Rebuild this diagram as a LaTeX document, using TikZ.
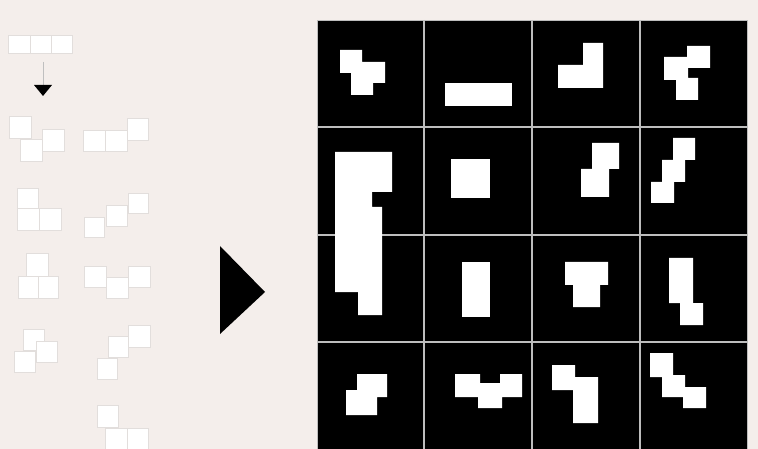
\documentclass[tikz,border=0pt]{standalone}
\usetikzlibrary{positioning}
\definecolor{bgcol}{HTML}{F4EEEB}
\definecolor{tileline}{HTML}{E2DEDC}
\definecolor{gridline}{HTML}{BDBDBD}
\tikzset{
  tile/.style={fill=white, draw=tileline, line width=0.6pt},
  blob/.style={fill=white, draw=none},
  gline/.style={draw=gridline, line width=1.8pt},
}
\begin{document}
\begin{tikzpicture}[x=1pt,y=-1pt]
\useasboundingbox (0,0) rectangle (758,449);
\fill[bgcol] (0,0) rectangle (758,449);

% ---- left: source tromino
\draw[tile] (8,35) rectangle (30,53);
\draw[tile] (30,35) rectangle (51,53);
\draw[tile] (51,35) rectangle (72,53);
\coordinate (arrtop) at (43,62);
\coordinate (arrbot) at (43,86);
\draw[gray!50, line width=0.8pt] (arrtop) -- (arrbot);
\fill[black] (34,85) -- (52,85) -- (43,96) -- cycle;

% ---- left: piece A
\draw[tile] (9,116) rectangle (31,138);
\draw[tile] (42,129) rectangle (64,151);
\draw[tile] (20,139) rectangle (42,161);
% piece B
\draw[tile] (83,130) rectangle (105,151);
\draw[tile] (105,130) rectangle (127,151);
\draw[tile] (127,118) rectangle (148,140);
% piece C
\draw[tile] (17,188) rectangle (38,208);
\draw[tile] (17,208) rectangle (39,230);
\draw[tile] (39,208) rectangle (61,230);
% piece D
\draw[tile] (84,217) rectangle (104,237);
\draw[tile] (106,205) rectangle (127,226);
\draw[tile] (128,193) rectangle (148,213);
% piece E
\draw[tile] (26,253) rectangle (48,276);
\draw[tile] (18,276) rectangle (38,298);
\draw[tile] (38,276) rectangle (58,298);
% piece F
\draw[tile] (84,266) rectangle (106,287);
\draw[tile] (106,277) rectangle (128,298);
\draw[tile] (128,266) rectangle (150,287);
% piece G
\draw[tile] (23,329) rectangle (44,350);
\draw[tile] (36,341) rectangle (57,362);
\draw[tile] (14,351) rectangle (35,372);
% piece H
\draw[tile] (128,325) rectangle (150,347);
\draw[tile] (108,336) rectangle (128,357);
\draw[tile] (97,358) rectangle (117,379);
% piece I
\draw[tile] (97,405) rectangle (118,427);
\draw[tile] (105,428) rectangle (127,449);
\draw[tile] (127,428) rectangle (148,449);

% ---- big arrow
\fill[black] (220,246) -- (265,292) -- (220,334) -- cycle;

% ---- grid
\fill[black] (317,20) rectangle (747,449);
\foreach \x in {424,532,640} \draw[gline] (\x,20) -- (\x,449);
\foreach \y in {127,235,342} \draw[gline] (317,\y) -- (747,\y);
\draw[draw=gridline, line width=0.8pt] (317,20) rectangle (747,449);

% row 0
\fill[blob] (340,50) -- (362,50) -- (362,62) -- (385,62) -- (385,83) -- (373,83) -- (373,95) -- (351,95) -- (351,73) -- (340,73) -- cycle;
\fill[blob] (445,83) rectangle (512,106);
\fill[blob] (583,43) -- (603,43) -- (603,88) -- (558,88) -- (558,65) -- (583,65) -- cycle;
\fill[blob] (687,46) -- (710,46) -- (710,68) -- (688,68) -- (688,78) -- (698,78) -- (698,100) -- (676,100) -- (676,80) -- (664,80) -- (664,57) -- (687,57) -- cycle;
% row 1
\fill[blob] (335,152) -- (392,152) -- (392,192) -- (372,192) -- (372,207) -- (382,207) -- (382,315) -- (358,315) -- (358,292) -- (335,292) -- cycle;
\fill[blob] (451,159) rectangle (490,198);
\fill[blob] (592,143) -- (619,143) -- (619,169) -- (609,169) -- (609,197) -- (581,197) -- (581,169) -- (592,169) -- cycle;
\fill[blob] (673,138) -- (695,138) -- (695,160) -- (685,160) -- (685,182) -- (674,182) -- (674,203) -- (651,203) -- (651,182) -- (662,182) -- (662,160) -- (673,160) -- cycle;
% row 2
\fill[blob] (462,262) rectangle (490,317);
\fill[blob] (565,262) -- (608,262) -- (608,285) -- (600,285) -- (600,307) -- (573,307) -- (573,285) -- (565,285) -- cycle;
\fill[blob] (669,258) -- (693,258) -- (693,303) -- (703,303) -- (703,325) -- (680,325) -- (680,303) -- (669,303) -- cycle;
% row 3
\fill[blob] (357,374) -- (387,374) -- (387,397) -- (377,397) -- (377,415) -- (346,415) -- (346,390) -- (357,390) -- cycle;
\fill[blob] (455,374) -- (480,374) -- (480,383) -- (500,383) -- (500,374) -- (522,374) -- (522,397) -- (502,397) -- (502,408) -- (478,408) -- (478,397) -- (455,397) -- cycle;
\fill[blob] (552,365) -- (575,365) -- (575,377) -- (598,377) -- (598,423) -- (573,423) -- (573,390) -- (552,390) -- cycle;
\fill[blob] (650,353) -- (673,353) -- (673,375) -- (685,375) -- (685,387) -- (706,387) -- (706,408) -- (683,408) -- (683,397) -- (662,397) -- (662,377) -- (650,377) -- cycle;
\end{tikzpicture}
\end{document}
